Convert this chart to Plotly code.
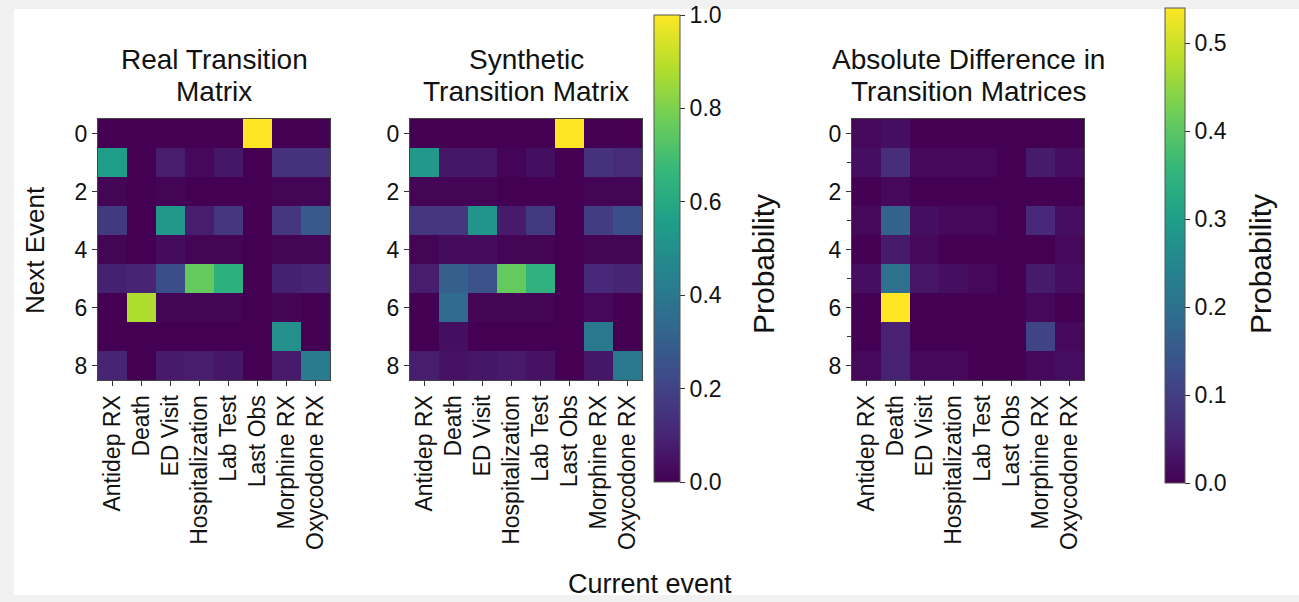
import plotly.graph_objects as go

# Event categories (columns = current event, rows = next event index)
current_events = ["Antidep RX", "Death", "ED Visit", "Hospitalization",
                  "Lab Test", "Last Obs", "Morphine RX", "Oxycodone RX"]
next_events = [0, 1, 2, 3, 4, 5, 6, 7, 8]

# Transition probabilities, one row per next-event index
real_matrix = [
    [0.00, 0.00, 0.00, 0.00, 0.00, 1.00, 0.00, 0.00],
    [0.55, 0.00, 0.08, 0.02, 0.06, 0.00, 0.14, 0.14],
    [0.01, 0.00, 0.01, 0.00, 0.00, 0.00, 0.01, 0.01],
    [0.17, 0.00, 0.53, 0.08, 0.16, 0.00, 0.16, 0.28],
    [0.01, 0.00, 0.03, 0.01, 0.01, 0.00, 0.01, 0.01],
    [0.09, 0.10, 0.24, 0.76, 0.63, 0.00, 0.09, 0.10],
    [0.00, 0.88, 0.01, 0.01, 0.01, 0.00, 0.01, 0.00],
    [0.00, 0.00, 0.00, 0.00, 0.00, 0.00, 0.50, 0.00],
    [0.10, 0.00, 0.07, 0.08, 0.06, 0.00, 0.07, 0.42],
]

synthetic_matrix = [
    [0.00, 0.00, 0.00, 0.00, 0.00, 1.00, 0.00, 0.00],
    [0.53, 0.06, 0.06, 0.01, 0.04, 0.00, 0.14, 0.12],
    [0.01, 0.01, 0.01, 0.00, 0.00, 0.00, 0.01, 0.01],
    [0.16, 0.16, 0.52, 0.07, 0.17, 0.00, 0.18, 0.24],
    [0.01, 0.03, 0.03, 0.01, 0.01, 0.00, 0.01, 0.01],
    [0.08, 0.30, 0.25, 0.76, 0.64, 0.00, 0.11, 0.10],
    [0.00, 0.34, 0.01, 0.01, 0.01, 0.00, 0.02, 0.00],
    [0.00, 0.04, 0.00, 0.00, 0.00, 0.00, 0.40, 0.00],
    [0.08, 0.05, 0.06, 0.07, 0.05, 0.00, 0.06, 0.40],
]

difference_matrix = [
    [0.01, 0.02, 0.00, 0.00, 0.00, 0.00, 0.00, 0.00],
    [0.02, 0.07, 0.01, 0.01, 0.01, 0.00, 0.04, 0.02],
    [0.00, 0.01, 0.00, 0.00, 0.00, 0.00, 0.00, 0.00],
    [0.01, 0.17, 0.02, 0.01, 0.01, 0.00, 0.06, 0.02],
    [0.00, 0.04, 0.01, 0.00, 0.00, 0.00, 0.00, 0.01],
    [0.02, 0.20, 0.03, 0.02, 0.01, 0.00, 0.04, 0.02],
    [0.00, 0.54, 0.00, 0.00, 0.00, 0.00, 0.01, 0.00],
    [0.00, 0.05, 0.00, 0.00, 0.00, 0.00, 0.11, 0.01],
    [0.01, 0.05, 0.01, 0.01, 0.00, 0.00, 0.01, 0.02],
]

panel_titles = [
    ["Real Transition", "Matrix"],
    ["Synthetic", "Transition Matrix"],
    ["Absolute Difference in", "Transition Matrices"],
]

W, H = 1299, 602
FONT = "Liberation Sans, Arial, Helvetica, sans-serif"
INK = "#111111"


def px_x(p):
    return p / W


def px_y(p):
    return 1 - p / H


def label(x, y, text, size, angle=0):
    fig.add_annotation(
        x=px_x(x), y=px_y(y), xref="paper", yref="paper", text=text,
        textangle=angle, showarrow=False, xanchor="center", yanchor="middle",
        font=dict(family=FONT, size=size, color=INK),
    )


# pixel boxes for the three heatmaps (left, right) and shared top/bottom
panels_x = [(98, 330), (410, 642), (852, 1084)]
top_px, bottom_px = 119, 380

fig = go.Figure()

matrices = [real_matrix, synthetic_matrix, difference_matrix]
coloraxes = ["coloraxis", "coloraxis", "coloraxis2"]
for i, (z, ca) in enumerate(zip(matrices, coloraxes)):
    suffix = "" if i == 0 else str(i + 1)
    fig.add_trace(go.Heatmap(
        z=z, x=current_events, y=next_events, coloraxis=ca,
        xaxis="x" + suffix, yaxis="y" + suffix,
        hovertemplate="%{x} → %{y}: %{z:.2f}<extra></extra>",
    ))

axis_common = dict(
    showline=True, mirror=True, linecolor="#444", linewidth=1,
    ticks="outside", ticklen=5, tickwidth=1, tickcolor="#333",
    showgrid=False, zeroline=False,
)

for i, (x0, x1) in enumerate(panels_x):
    suffix = "" if i == 0 else str(i + 1)
    fig.layout["xaxis" + suffix] = dict(
        axis_common, domain=[px_x(x0), px_x(x1)], anchor="y" + suffix,
        tickangle=-90, type="category",
        tickfont=dict(family=FONT, size=23, color=INK),
    )
    yax = dict(
        axis_common, domain=[px_y(bottom_px), px_y(top_px)], anchor="x" + suffix,
        range=[8.5, -0.5], tickvals=[0, 2, 4, 6, 8],
        tickfont=dict(family=FONT, size=23, color=INK),
    )
    if i == 2:
        yax["minor"] = dict(tickvals=[1, 3, 5, 7], ticks="outside",
                            ticklen=4, tickcolor="#333")
    fig.layout["yaxis" + suffix] = yax

    # two-line panel title
    cx = (x0 + x1) / 2
    for j, line in enumerate(panel_titles[i]):
        label(cx, 60 + 31 * j, line, 28)

colorbar_common = dict(
    thicknessmode="pixels", lenmode="fraction", xanchor="left",
    yanchor="middle", xpad=0, ypad=0, outlinewidth=1, outlinecolor="#555",
    ticks="outside", ticklen=5, tickcolor="#333",
    tickfont=dict(family=FONT, size=23, color=INK),
)

fig.update_layout(
    width=W, height=H,
    margin=dict(l=0, r=0, t=0, b=0),
    paper_bgcolor="#f1f1f1", plot_bgcolor="white",
    font=dict(family=FONT, color=INK),
    coloraxis=dict(
        colorscale="Viridis", cmin=0, cmax=1.0,
        colorbar=dict(colorbar_common, x=px_x(654), y=px_y((15 + 482) / 2),
                      thickness=26, len=(482 - 15) / H,
                      tickvals=[0, 0.2, 0.4, 0.6, 0.8, 1.0], tickformat=".1f"),
    ),
    coloraxis2=dict(
        colorscale="Viridis", cmin=0,
        cmax=max(max(r) for r in difference_matrix),
        colorbar=dict(colorbar_common, x=px_x(1165), y=px_y((8 + 483) / 2),
                      thickness=20, len=(483 - 8) / H,
                      tickvals=[0, 0.1, 0.2, 0.3, 0.4, 0.5], tickformat=".1f"),
    ),
    shapes=[dict(type="rect", xref="paper", yref="paper", layer="below",
                 x0=px_x(14), x1=1, y0=px_y(595), y1=px_y(9),
                 fillcolor="white", line=dict(width=0))],
)

# shared axis titles and colorbar labels
label(35, 250, "Next Event", 26, angle=-90)
label(650, 584, "Current event", 27)
for cx in (763, 1260):
    label(cx, 264, "Probability", 30, angle=-90)

fig.write_html("out.html")
